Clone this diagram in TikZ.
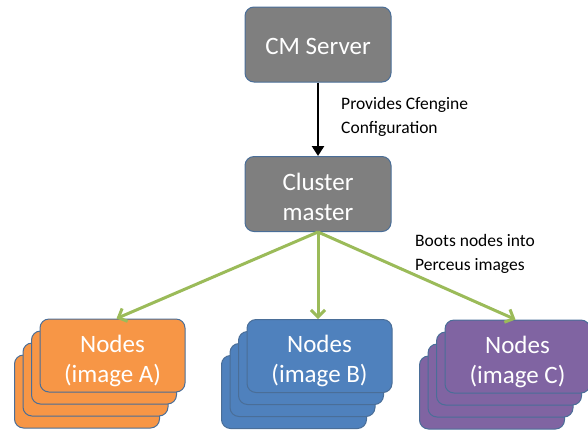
\documentclass[tikz,border=0pt]{standalone}
\usepackage{fontspec}
\setmainfont{Carlito}
\usetikzlibrary{arrows.meta}
\definecolor{boxgray}{HTML}{7F7F7F}
\definecolor{edgeblue}{HTML}{4A6E98}
\definecolor{orangefill}{HTML}{F79646}
\definecolor{bluefill}{HTML}{4F81BD}
\definecolor{purplefill}{HTML}{8064A2}
\definecolor{arrowgreen}{HTML}{9BBB59}
\tikzset{
  card/.style={draw=edgeblue, line width=1pt, rounded corners=9pt,
    minimum width=145pt, minimum height=73pt, inner sep=0pt},
  srv/.style={card, fill=boxgray, minimum width=146pt, minimum height=75pt},
  cardtext/.style={text=white, font=\fontsize{25}{30}\selectfont, align=center, inner sep=0pt},
  lbl/.style={font=\fontsize{17.5}{24}\selectfont, align=left, text=black, inner sep=0pt, anchor=north west},
  greenarrow/.style={draw=arrowgreen, line width=3pt, -{Straight Barb[length=7pt,width=14pt,line width=3pt]}},
}
\begin{document}
\begin{tikzpicture}[x=1pt,y=-1pt]
\useasboundingbox (0,0) rectangle (588,432);
\clip (0,0) rectangle (588,432);
\node[srv] (cm) at (318,44.5) {};
\node[cardtext] (cmtext) at ([yshift=-2pt]cm.center) {CM Server};
\node[srv] (cluster) at (318,194) {};
\node[cardtext] (clustertext) at ([yshift=-3pt]cluster.center) {Cluster\\master};
% stack A
\foreach \k/\nm in {3/a3,2/a2,1/a1}{
  \node[card, fill=orangefill] (\nm) at ({112.5-8.5*\k},{355.5+12*\k}) {};
}
\node[card, fill=orangefill] (a) at (112.5,355.5) {};
\node[cardtext] (atext) at ([yshift=-5pt]a.center) {Nodes\\(image A)};
% stack B
\foreach \k/\nm in {3/b3,2/b2,1/b1}{
  \node[card, fill=bluefill] (\nm) at ({319.5-8.5*\k},{356+12*\k}) {};
}
\node[card, fill=bluefill] (b) at (319.5,356) {};
\node[cardtext] (btext) at ([yshift=-5pt]b.center) {Nodes\\(image B)};
% stack C
\foreach \k/\nm in {3/c3,2/c2,1/c1}{
  \node[card, fill=purplefill] (\nm) at ({517.5-8.5*\k},{356.5+12*\k}) {};
}
\node[card, fill=purplefill] (c) at (517.5,356.5) {};
\node[cardtext] (ctext) at ([yshift=-5pt]c.center) {Nodes\\(image C)};
% arrows
\draw[line width=2.5pt, -{Triangle[length=10pt,width=12pt]}] (cm.south) -- (cluster.north);
\draw[greenarrow] (cluster.south) -- ([xshift=4pt]a.north);
\draw[greenarrow] (cluster.south) -- (b.north -| cluster.south);
\draw[greenarrow] (cluster.south) -- ([xshift=-2pt]c.north);
% labels
\node[lbl] (l1) at (341,97) {Provides Cfengine\\Configuration};
\node[lbl] (l2) at (415,234) {Boots nodes into\\Perceus images};
\end{tikzpicture}
\end{document}
